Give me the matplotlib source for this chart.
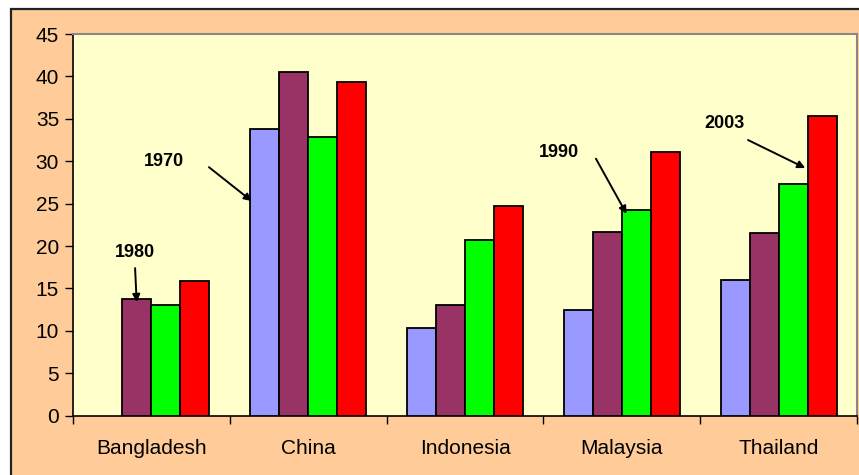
import matplotlib

matplotlib.use("Agg")
import matplotlib.pyplot as plt
import numpy as np
from matplotlib.patches import Rectangle

plt.rcParams["font.family"] = ["Liberation Sans", "DejaVu Sans"]

countries = ["Bangladesh", "China", "Indonesia", "Malaysia", "Thailand"]
years = ["1970", "1980", "1990", "2003"]
# share by country; Bangladesh has no 1970 value
v1970 = [np.nan, 33.8, 10.3, 12.5, 16.0]
v1980 = [13.8, 40.5, 13.0, 21.6, 21.5]
v1990 = [13.1, 32.9, 20.7, 24.2, 27.3]
v2003 = [15.9, 39.4, 24.7, 31.1, 35.3]
colors = ["#9999FF", "#993366", "#00FF00", "#FF0000"]

fig = plt.figure(figsize=(8.59, 4.75), dpi=100)
# orange chart frame, kept behind the axes
fig.patches.append(Rectangle((11 / 859, -0.01), 1.0, 1.01 - 9 / 475,
                             transform=fig.transFigure, facecolor="#FFCC99",
                             edgecolor="#222222", linewidth=1.6, zorder=-1))

ax = fig.add_axes([73 / 859, 1 - 415.7 / 475, 784 / 859, 381.7 / 475])
ax.set_facecolor("#FFFFCC")

x = np.arange(len(countries))
w = 0.185
for i, (vals, c) in enumerate(zip([v1970, v1980, v1990, v2003], colors)):
    ax.bar(x + (i - 1.5) * w, vals, width=w, color=c, edgecolor="black",
           linewidth=1.3, label=years[i], zorder=3)

ax.set_xlim(-0.5, len(countries) - 0.5)
ax.set_ylim(0, 45)
ax.set_yticks(np.arange(0, 46, 5))
ax.tick_params(axis="y", direction="out", length=6, width=1, labelsize=15, pad=4)

ax.set_xticks(np.arange(-0.5, len(countries)), labels=[])
ax.set_xticks(x, labels=countries, minor=True)
ax.tick_params(axis="x", which="major", direction="out", length=6, width=1)
ax.tick_params(axis="x", which="minor", length=0, labelsize=15, pad=17)

for side in ["top", "right"]:
    ax.spines[side].set_color("#888888")
    ax.spines[side].set_linewidth(1.5)
for side in ["left", "bottom"]:
    ax.spines[side].set_color("black")
    ax.spines[side].set_linewidth(1.2)

# year call-outs
notes = [
    ("1980", (-0.105, 19.2), (-0.104, 17.4), (-0.094, 13.4)),
    ("1970", (0.080, 30.0), (0.367, 29.3), (0.640, 25.3)),
    ("1990", (2.600, 31.0), (2.835, 30.3), (3.030, 23.8)),
    ("2003", (3.658, 34.4), (3.805, 32.5), (4.170, 29.2)),
]
for label, txt, start, tip in notes:
    ax.text(*txt, label, ha="center", va="center", fontsize=13,
            fontweight="bold", zorder=5)
    ax.annotate("", xy=tip, xytext=start, zorder=5,
                arrowprops=dict(arrowstyle="-|>", color="black", lw=1.4,
                                mutation_scale=11, shrinkA=0, shrinkB=0))

fig.savefig("out.png", dpi=100)
